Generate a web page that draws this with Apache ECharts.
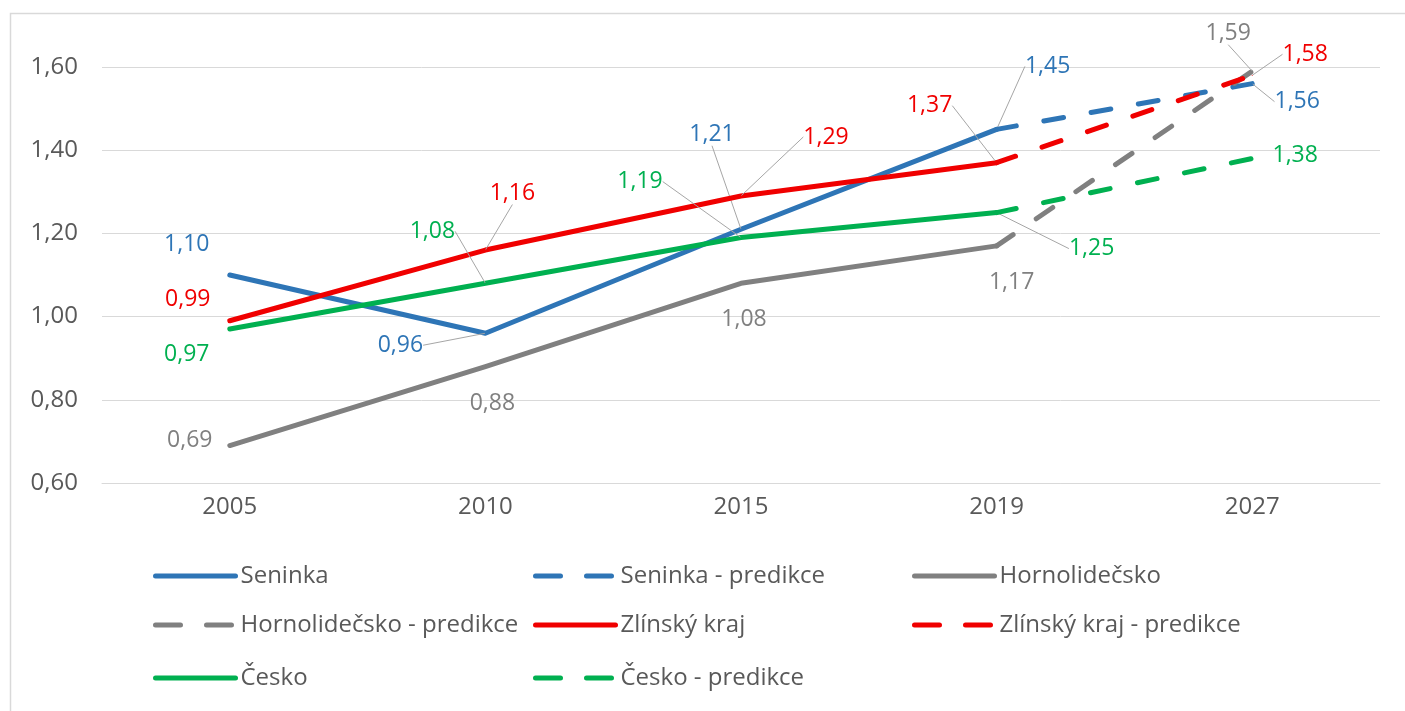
<!DOCTYPE html>
<html>
<head>
<meta charset="utf-8">
<script src="https://cdn.jsdelivr.net/npm/echarts@6/dist/echarts.min.js"></script>
<style>
  html, body { margin: 0; padding: 0; background: #fff; }
  #main { width: 1405px; height: 711px; }
</style>
</head>
<body>
<div id="main"></div>
<script>
// data
var years = ['2005', '2010', '2015', '2019', '2027'];
var seninka = [1.10, 0.96, 1.21, 1.45, null];
var seninkaPred = [null, null, null, 1.45, 1.56];
var horno = [0.69, 0.88, 1.08, 1.17, null];
var hornoPred = [null, null, null, 1.17, 1.59];
var zlin = [0.99, 1.16, 1.29, 1.37, null];
var zlinPred = [null, null, null, 1.37, 1.58];
var cesko = [0.97, 1.08, 1.19, 1.25, null];
var ceskoPred = [null, null, null, 1.25, 1.38];
var yTicks = [0.6, 0.8, 1.0, 1.2, 1.4, 1.6];

var myChart = echarts.init(document.getElementById('main'));

var FONT = 'Open Sans';
var BLUE = '#2E75B6', GREY = '#808080', RED = '#F00000', GREEN = '#00B050';

// label offsets (dx, dy) from the default "top" label position
var labelOffsets = [
  [[-43, -14], [-85, 29], [-29, -78], [51, -46], null],
  [null, null, null, null, [45, 35]],
  [[-40, 12], [7, 54], [3, 53], [15, 54], null],
  [null, null, null, null, [-24, -21]],
  [[-42, -4], [27, -40], [85, -42], [-67, -40], null],
  [null, null, null, null, [53, -4]],
  [[-43, 42], [-53, -35], [-101, -39], [95, 53], null],
  [null, null, null, null, [43, 14]]
];
// which labels get a leader line
var leaders = [
  [0, 1, 1, 1, 0],
  [0, 0, 0, 0, 1],
  [0, 0, 0, 0, 0],
  [0, 0, 0, 0, 1],
  [0, 1, 1, 1, 0],
  [0, 0, 0, 0, 1],
  [0, 1, 1, 1, 0],
  [0, 0, 0, 0, 0]
];

function fmt(v) {
  return v.toFixed(2).replace('.', ',');
}

function makeSeries(idx, name, values, color, dashed) {
  return {
    name: name,
    type: 'line',
    symbol: 'circle',
    symbolSize: 1,
    z: 2 + idx,
    lineStyle: {
      color: color,
      width: 5,
      type: dashed ? [20, 28] : 'solid',
      cap: 'round',
      join: 'round'
    },
    itemStyle: { color: color },
    emphasis: { disabled: true },
    data: values.map(function (v, i) {
      if (v === null) return null;
      return {
        value: v,
        label: { show: labelOffsets[idx][i] !== null },
        labelLine: { show: leaders[idx][i] === 1 }
      };
    }),
    label: {
      show: true,
      position: 'top',
      color: color,
      fontFamily: FONT,
      fontSize: 23,
      formatter: function (p) { return fmt(p.value); }
    },
    labelLine: {
      lineStyle: { color: '#a6a6a6', width: 1 }
    },
    labelLayout: function (p) {
      var o = labelOffsets[p.seriesIndex][p.dataIndex];
      if (!o) return {};
      return { dx: o[0], dy: o[1] };
    }
  };
}

var seriesDefs = [
  ['Seninka', seninka, BLUE, false],
  ['Seninka - predikce', seninkaPred, BLUE, true],
  ['Hornolidečsko', horno, GREY, false],
  ['Hornolidečsko - predikce', hornoPred, GREY, true],
  ['Zlínský kraj', zlin, RED, false],
  ['Zlínský kraj - predikce', zlinPred, RED, true],
  ['Česko', cesko, GREEN, false],
  ['Česko - predikce', ceskoPred, GREEN, true]
];

var legendLeft = [148, 528, 907];
var legendTop = [559, 608, 661];
var legends = seriesDefs.map(function (d, i) {
  return {
    data: [d[0]],
    left: legendLeft[i % 3],
    top: legendTop[Math.floor(i / 3)],
    itemWidth: 80,
    itemHeight: 14,
    selectedMode: false,
    itemStyle: { opacity: 0 },
    lineStyle: { width: 5, type: d[3] ? [25, 26] : 'solid', cap: 'round' },
    textStyle: { color: '#595959', fontFamily: FONT, fontSize: 24 }
  };
});

myChart.setOption({
  animation: false,
  backgroundColor: '#fff',
  graphic: [{
    type: 'rect',
    left: 8, top: 11,
    shape: { width: 1410, height: 720 },
    style: { fill: 'none', stroke: '#d9d9d9', lineWidth: 1.5 },
    silent: true
  }],
  grid: { left: 102, right: 25, top: 67, bottom: 228, containLabel: false },
  legend: legends,
  xAxis: {
    type: 'category',
    data: years,
    boundaryGap: true,
    axisLine: { show: true, lineStyle: { color: '#d9d9d9', width: 1 } },
    axisTick: { show: false },
    axisLabel: { color: '#595959', fontFamily: FONT, fontSize: 24, margin: 12 }
  },
  yAxis: {
    type: 'value',
    min: yTicks[0],
    max: yTicks[yTicks.length - 1],
    interval: 0.2,
    axisLine: { show: false },
    axisTick: { show: false },
    splitLine: { lineStyle: { color: '#d9d9d9', width: 1 } },
    axisLabel: {
      color: '#595959', fontFamily: FONT, fontSize: 24, margin: 24,
      formatter: function (v) { return fmt(v); }
    }
  },
  series: seriesDefs.map(function (d, i) {
    return makeSeries(i, d[0], d[1], d[2], d[3]);
  })
});
</script>
</body>
</html>
